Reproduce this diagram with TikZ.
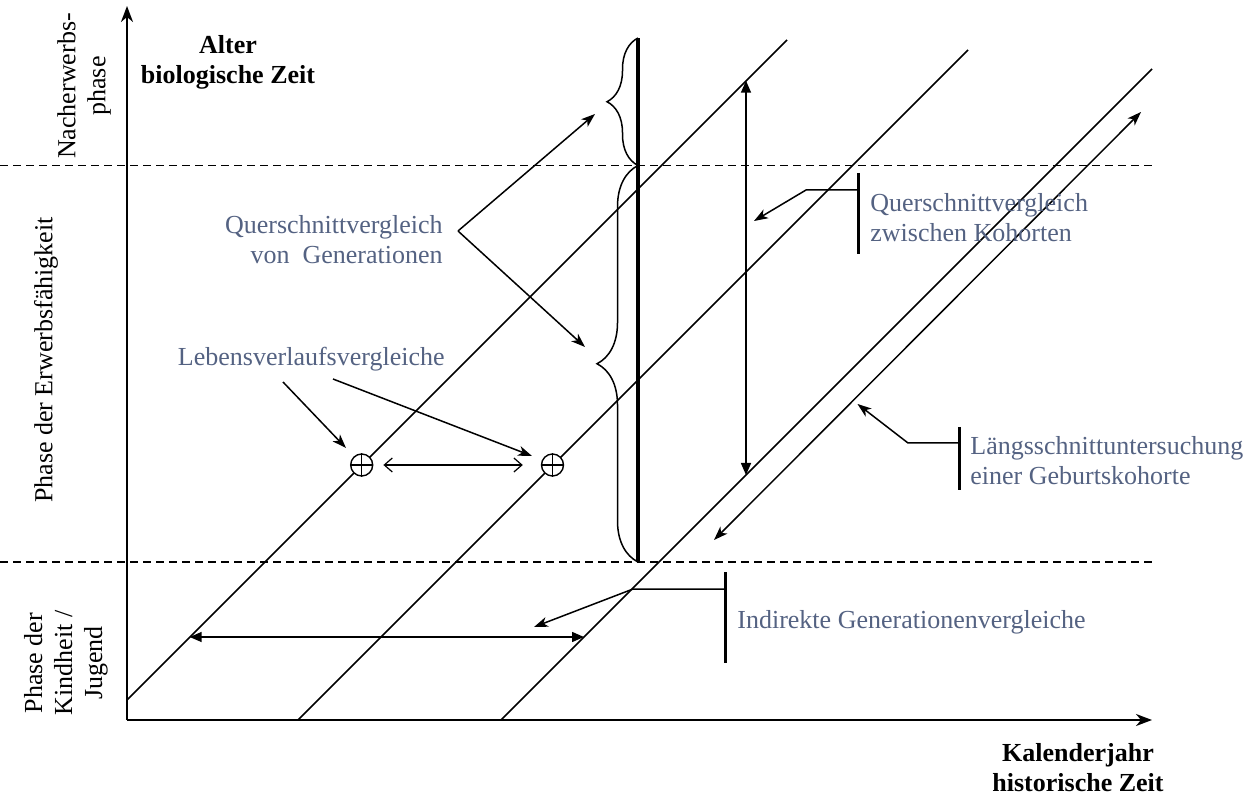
\documentclass[tikz,border=0pt]{standalone}
\usepackage{fontspec}
\setmainfont{Liberation Serif}
\usetikzlibrary{arrows.meta}
\usetikzlibrary{decorations.pathreplacing}
\usetikzlibrary{positioning}
\definecolor{noteblue}{RGB}{84,98,130}

\begin{document}
\begin{tikzpicture}[x=0.5pt,y=-0.5pt,
		every node/.style={font=\fontsize{13}{15}\selectfont,inner sep=0pt},
		title/.style={font=\fontsize{13}{15}\selectfont\bfseries,align=center},
		side/.style={rotate=90,align=center},
		note/.style={text=noteblue},
		axis/.style={line width=1pt,-{Stealth[length=8pt,width=6pt,inset=2.5pt]}},
		phaseline/.style={line width=0.6pt,dash pattern=on 4pt off 2.5pt},
		cohort/.style={line width=0.75pt},
		pointer/.style={line width=0.75pt,-{Stealth[length=7pt,width=5pt,inset=2pt]}},
		bar/.style={line width=1.5pt},
		brace/.style={line width=0.75pt,decorate,decoration={brace,amplitude=#1}},
		point/.style={draw,circle,fill=white,minimum size=11pt,line width=0.7pt}]
		\useasboundingbox (0,0) rectangle (1258,796);
		% Achsen
		\coordinate (O) at (127,720);
		\coordinate (ytip) at (127,6);
		\coordinate (xtip) at (1152,720);
		\draw[phaseline] (0,165.5) coordinate (d1) -- (1152,165.5) coordinate (d1e);
		\draw[phaseline] (0,562) coordinate (d2) -- (1152,562) coordinate (d2e);
		\draw[axis] (O) -- (ytip);
		\draw[axis] (O) -- (xtip);
		\node[title] (alter) at (228,62) {Alter\\biologische Zeit};
		\node[title] (kalender) at (1078,768) {Kalenderjahr\\historische Zeit};
		\node[side] (nach) at (84,86) {Nacherwerbs-\\phase};
		\node[side] (erwerb) at (46,360) {Phase der Erwerbsfähigkeit};
		\node[side] (kind) at (66,663) {Phase der\\Kindheit /\\Jugend};
		% Kohorten
		\coordinate (k1s) at (127,700); \coordinate (k1e) at (787,40);
		\coordinate (k2s) at (298,720); \coordinate (k2e) at (968,50);
		\coordinate (k3s) at (501,720); \coordinate (k3e) at (1152,69);
		\draw[cohort] (k1s) -- (k1e);
		\draw[cohort] (k2s) -- (k2e);
		\draw[cohort] (k3s) -- (k3e);
		% Zeitpunkt
		\coordinate (ttop) at (638,38);
		\coordinate (tmid) at (638,165.5);
		\coordinate (tbot) at (638,562);
		\draw[brace=15.5pt] (tmid) -- (ttop);
		\draw[brace=20.5pt] (tbot) -- (tmid);
		\draw[line width=2.4pt] (tbot) -- (ttop);
		% Vergleiche
		\coordinate (v1) at (746,80.7); \coordinate (v2) at (746,475);
		\draw[line width=0.75pt,{Triangle[length=6pt,width=5pt]}-{Triangle[length=6pt,width=5pt]}] (v1) -- (v2);
		\coordinate (l1) at (714,540); \coordinate (l2) at (1141,112);
		\draw[line width=0.75pt,{Stealth[length=7pt,width=5pt,inset=2pt]}-{Stealth[length=7pt,width=5pt,inset=2pt]}] (l1) -- (l2);
		\coordinate (h1) at (189.7,637); \coordinate (h2) at (584,637);
		\draw[line width=0.75pt,{Triangle[length=6pt,width=5pt]}-{Triangle[length=6pt,width=5pt]}] (h1) -- (h2);
		\node[point] (p1) at (361.7,465) {};
		\node[point] (p2) at (552.5,465) {};
		\draw[line width=0.7pt] (p1.north) -- (p1.south) (p1.west) -- (p1.east);
		\draw[line width=0.7pt] (p2.north) -- (p2.south) (p2.west) -- (p2.east);
		\draw[line width=0.6pt,{Straight Barb[length=4pt,width=7pt]}-{Straight Barb[length=4pt,width=7pt]}] ([xshift=5pt]p1.east) -- ([xshift=-9pt]p2.west);
		% Beschriftungen
		\node[note,anchor=east,align=right] (gen) at (443,240) {Querschnittvergleich\\von~ Generationen};
		\coordinate (genfrom) at (458,231);
		\coordinate (gento1) at (595,114);
		\coordinate (gento2) at (585,347);
		\draw[pointer] (genfrom) -- (gento1);
		\draw[pointer] (genfrom) -- (gento2);
		\node[note,anchor=east] (leben) at (445,359) {Lebensverlaufsvergleiche};
		\coordinate (lebfrom1) at (283,382); \coordinate (lebfrom2) at (333,379);
		\coordinate (lebto1) at (346,448); \coordinate (lebto2) at (532,456);
		\draw[pointer] (lebfrom1) -- (lebto1);
		\draw[pointer] (lebfrom2) -- (lebto2);
		\node[note,anchor=west,align=left] (kohorten) at (870,218) {Querschnittvergleich\\zwischen Kohorten};
		\coordinate (kb1) at (858,173); \coordinate (kb2) at (858,254);
		\coordinate (kbar) at (858,190); \coordinate (kto) at (754,221);
		\draw[bar] (kb1) -- (kb2);
		\draw[pointer] (kbar) -- ++(-52,0) -- (kto);
		\node[note,anchor=west,align=left] (laengs) at (970,461) {Längsschnittuntersuchung\\einer Geburtskohorte};
		\coordinate (lb1) at (959,427); \coordinate (lb2) at (959,490);
		\coordinate (lbar) at (959,443); \coordinate (lto) at (857.5,404);
		\draw[bar] (lb1) -- (lb2);
		\draw[pointer] (lbar) -- ++(-51,0) -- (lto);
		\node[note,anchor=west] (indirekt) at (737,622) {Indirekte Generationenvergleiche};
		\coordinate (ib1) at (725,572); \coordinate (ib2) at (725,663);
		\coordinate (ibar) at (725,589); \coordinate (ito) at (534,627);
		\draw[bar] (ib1) -- (ib2);
		\draw[pointer] (ibar) -- ++(-92,0) -- (ito);
\end{tikzpicture}
\end{document}
